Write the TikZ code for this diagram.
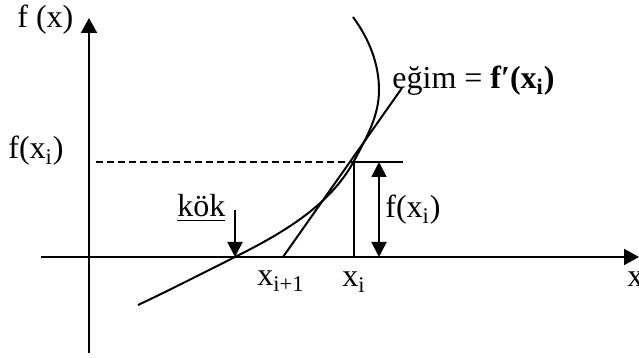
\documentclass[tikz,border=0pt]{standalone}
\usepackage{fontspec}
\setmainfont{Liberation Serif}
\usetikzlibrary{arrows.meta,positioning}

\begin{document}
\begin{tikzpicture}[
      x=0.5pt, y=-0.5pt,
      font=\fontsize{16}{19}\selectfont,
      line/.style={line width=1pt},
      axis/.style={line, -{Triangle[length=7.5pt, width=8pt]}},
      arrow/.style={line width=0.9pt, -{Triangle[length=7.5pt, width=7.5pt]}},
      both/.style={line width=0.9pt, {Triangle[length=7.5pt, width=7.5pt]}-{Triangle[length=7.5pt, width=7.5pt]}},
      txt/.style={inner sep=0pt, anchor=base west}
    ]
    \useasboundingbox (0,0) rectangle (639,358);

    % axes
    \coordinate (ybot) at (89,353);
    \coordinate (ytop) at (89,18);
    \coordinate (xleft) at (41,257);
    \coordinate (xright) at (639,257);
    \draw[axis] (ybot) -- (ytop);
    \draw[axis] (xleft) -- (xright);

    % points on the x axis and at f(x_i)
    \coordinate (root) at (235,257);
    \coordinate (xnext) at (283,257);
    \coordinate (xi) at (354,257);
    \coordinate (pt) at (354,161);
    \coordinate (dashstart) at (96,162);
    \coordinate (dashend) at (354,162);
    \coordinate (tickend) at (403,162);
    \coordinate (slope) at (402,88);
    \coordinate (hbot) at (379,257);
    \coordinate (htop) at (379,162);
    \coordinate (kokstart) at (235,210);
    \coordinate (cstart) at (138,305);
    \coordinate (cright) at (379,90);
    \coordinate (cend) at (353,17);

    % curve f(x)
    \draw[line] (cstart) .. controls (170,290) and (205,272) .. (root)
      .. controls (285,232) and (330,205) .. (pt)
      .. controls (368,135) and (379,115) .. (cright)
      .. controls (379,65) and (370,40) .. (cend);

    % tangent and guides
    \draw[line] (xnext) -- (slope);
    \draw[line, dash pattern=on 3.5pt off 2pt] (dashstart) -- (dashend);
    \draw[line] (dashend) -- (tickend);
    \draw[line] (dashend) -- (xi);
    \draw[both] (htop) -- (hbot);
    \draw[arrow] (kokstart) -- (root);

    % labels
    \node[txt] (fx) at (17,28) {f (x)};
    \node[txt] (fxileft) at (8,159) {f(x\textsubscript{i})};
    \node[txt] (fxiright) at (385,218) {f(x\textsubscript{i})};
    \node[txt] (kok) at (177,217) {\underline{kök}};
    \node[txt] (xnextlbl) at (257,286) {x\textsubscript{i+1}};
    \node[txt] (xilbl) at (342,287) {x\textsubscript{i}};
    \node[txt] (xlbl) at (627,287) {x};
    \node[txt] (egim) at (392,89) {eğim = \textbf{f′(x\textsubscript{i})}};
  \end{tikzpicture}
\end{document}
